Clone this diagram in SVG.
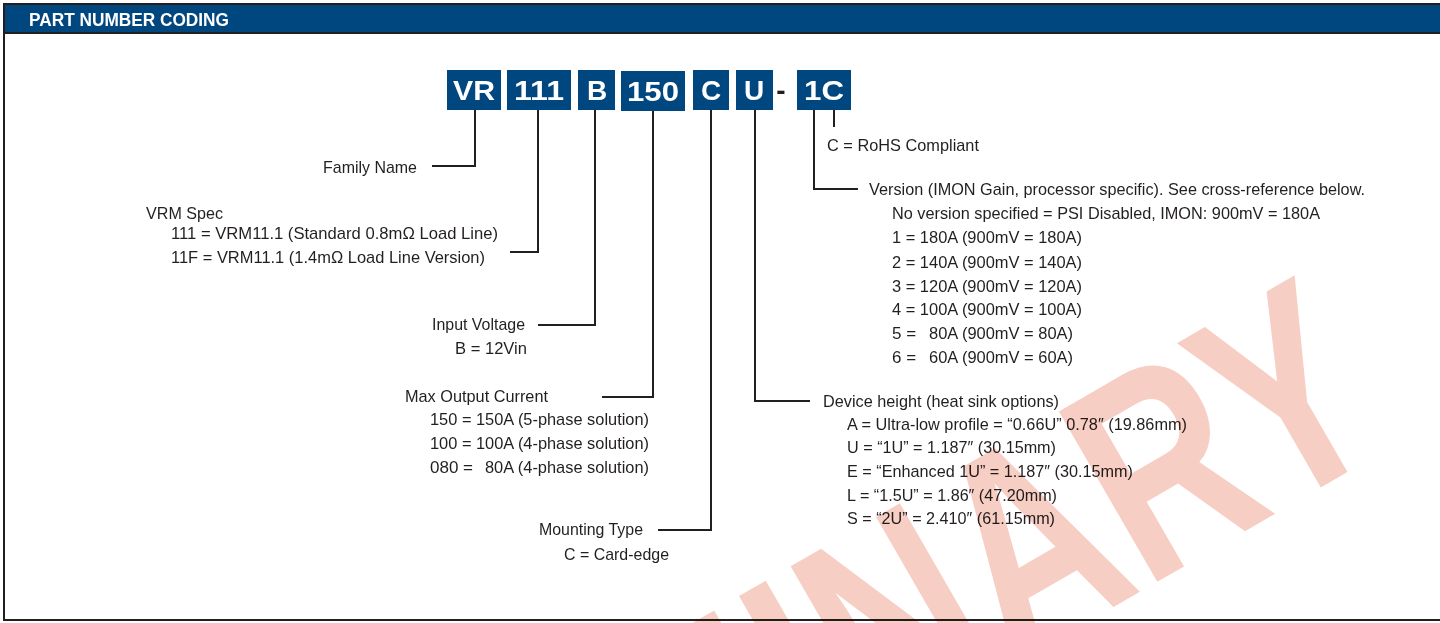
<svg xmlns="http://www.w3.org/2000/svg" width="1440" height="623" viewBox="0 0 1440 623">
<style>
.t{font-family:"Liberation Sans",Arial,sans-serif;font-size:17px;fill:#231f20}
.bx{fill:#00467f}
.bt{font-family:"Liberation Sans",Arial,sans-serif;font-size:28px;font-weight:bold;fill:#ffffff;text-anchor:middle}
.ln{fill:none;stroke:#231f20;stroke-width:2}
</style>
<rect width="1440" height="623" fill="#ffffff"/>
<g id="frame">
<rect x="4" y="4" width="1440" height="616" fill="none" stroke="#231f20" stroke-width="2"/>
<rect x="4" y="4" width="1440" height="29" fill="#00467f" stroke="#231f20" stroke-width="2"/>
<text x="29" y="26" font-family="Liberation Sans, Arial, sans-serif" font-size="19" font-weight="bold" fill="#ffffff" textLength="200" lengthAdjust="spacingAndGlyphs">PART NUMBER CODING</text>
</g>
<g id="code">
<g id="box-vr"><rect class="bx" x="447" y="70" width="54" height="40"/><text class="bt" x="474" y="100" textLength="42" lengthAdjust="spacingAndGlyphs">VR</text></g>
<g id="box-111"><rect class="bx" x="507" y="70" width="64" height="40"/><text class="bt" x="539" y="100" textLength="50" lengthAdjust="spacingAndGlyphs">111</text></g>
<g id="box-b"><rect class="bx" x="578" y="70" width="37" height="40"/><text class="bt" x="597" y="100">B</text></g>
<g id="box-150"><rect class="bx" x="621" y="71" width="64" height="40"/><text class="bt" x="653" y="101" textLength="52" lengthAdjust="spacingAndGlyphs">150</text></g>
<g id="box-c"><rect class="bx" x="693" y="70" width="36" height="40"/><text class="bt" x="711" y="100">C</text></g>
<g id="box-u"><rect class="bx" x="736" y="70" width="37" height="40"/><text class="bt" x="754" y="100">U</text></g>
<text x="781" y="100" font-family="Liberation Sans, Arial, sans-serif" font-size="28" font-weight="bold" fill="#231f20" text-anchor="middle">-</text>
<g id="box-1c"><rect class="bx" x="797" y="70" width="54" height="40"/><text class="bt" x="824" y="100" textLength="40" lengthAdjust="spacingAndGlyphs">1C</text></g>
</g>
<g id="connectors">
<path class="ln" d="M475 110 V166 H432"/>
<path class="ln" d="M538 110 V252 H510"/>
<path class="ln" d="M595 110 V325 H538"/>
<path class="ln" d="M653 111 V397 H602"/>
<path class="ln" d="M711 110 V530 H658"/>
<path class="ln" d="M755 110 V401 H810"/>
<path class="ln" d="M814 110 V189 H858"/>
<path class="ln" d="M834 110 V127"/>
</g>
<g id="family-name"><text class="t" x="323" y="173" textLength="94" lengthAdjust="spacingAndGlyphs">Family Name</text></g>
<g id="vrm-spec">
<text class="t" x="146" y="219" textLength="77" lengthAdjust="spacingAndGlyphs">VRM Spec</text>
<text class="t" x="171" y="239" textLength="327" lengthAdjust="spacingAndGlyphs">111 = VRM11.1 (Standard 0.8mΩ Load Line)</text>
<text class="t" x="171" y="263" textLength="314" lengthAdjust="spacingAndGlyphs">11F = VRM11.1 (1.4mΩ Load Line Version)</text>
</g>
<g id="input-voltage">
<text class="t" x="432" y="330" textLength="93" lengthAdjust="spacingAndGlyphs">Input Voltage</text>
<text class="t" x="455" y="354" textLength="72" lengthAdjust="spacingAndGlyphs">B = 12Vin</text>
</g>
<g id="max-output-current">
<text class="t" x="405" y="402" textLength="143" lengthAdjust="spacingAndGlyphs">Max Output Current</text>
<text class="t" x="430" y="425" textLength="219" lengthAdjust="spacingAndGlyphs">150 = 150A (5-phase solution)</text>
<text class="t" x="430" y="449" textLength="219" lengthAdjust="spacingAndGlyphs">100 = 100A (4-phase solution)</text>
<text class="t" y="473"><tspan x="430">080 =</tspan><tspan x="485" textLength="164" lengthAdjust="spacingAndGlyphs">80A (4-phase solution)</tspan></text>
</g>
<g id="mounting-type">
<text class="t" x="539" y="535" textLength="104" lengthAdjust="spacingAndGlyphs">Mounting Type</text>
<text class="t" x="564" y="560" textLength="105" lengthAdjust="spacingAndGlyphs">C = Card-edge</text>
</g>
<g id="rohs"><text class="t" x="827" y="151" textLength="152" lengthAdjust="spacingAndGlyphs">C = RoHS Compliant</text></g>
<g id="version">
<text class="t" x="869" y="195" textLength="496" lengthAdjust="spacingAndGlyphs">Version (IMON Gain, processor specific). See cross-reference below.</text>
<text class="t" x="892" y="219" textLength="428" lengthAdjust="spacingAndGlyphs">No version specified = PSI Disabled, IMON: 900mV = 180A</text>
<text class="t" x="892" y="243" textLength="190" lengthAdjust="spacingAndGlyphs">1 = 180A (900mV = 180A)</text>
<text class="t" x="892" y="268" textLength="190" lengthAdjust="spacingAndGlyphs">2 = 140A (900mV = 140A)</text>
<text class="t" x="892" y="292" textLength="190" lengthAdjust="spacingAndGlyphs">3 = 120A (900mV = 120A)</text>
<text class="t" x="892" y="315" textLength="190" lengthAdjust="spacingAndGlyphs">4 = 100A (900mV = 100A)</text>
<text class="t" y="339"><tspan x="892">5 =</tspan><tspan x="929" textLength="144" lengthAdjust="spacingAndGlyphs">80A (900mV = 80A)</tspan></text>
<text class="t" y="363"><tspan x="892">6 =</tspan><tspan x="929" textLength="144" lengthAdjust="spacingAndGlyphs">60A (900mV = 60A)</tspan></text>
</g>
<g id="device-height">
<text class="t" x="823" y="407" textLength="236" lengthAdjust="spacingAndGlyphs">Device height (heat sink options)</text>
<text class="t" x="847" y="430" textLength="340" lengthAdjust="spacingAndGlyphs">A = Ultra-low profile = “0.66U” 0.78″ (19.86mm)</text>
<text class="t" x="847" y="453" textLength="209" lengthAdjust="spacingAndGlyphs">U = “1U” = 1.187″ (30.15mm)</text>
<text class="t" x="847" y="477" textLength="286" lengthAdjust="spacingAndGlyphs">E = “Enhanced 1U” = 1.187″ (30.15mm)</text>
<text class="t" x="847" y="501" textLength="210" lengthAdjust="spacingAndGlyphs">L = “1.5U” = 1.86″ (47.20mm)</text>
<text class="t" x="847" y="524" textLength="208" lengthAdjust="spacingAndGlyphs">S = “2U” = 2.410″ (61.15mm)</text>
</g>
<g id="watermark" style="mix-blend-mode:multiply">
<text transform="translate(1396,444) rotate(-30) scale(0.75,1)" x="0" y="0" font-family="Liberation Sans, Arial, sans-serif" font-size="286" font-weight="bold" fill="#f7cec4" text-anchor="end">PRELIMINARY</text>
</g>
</svg>
